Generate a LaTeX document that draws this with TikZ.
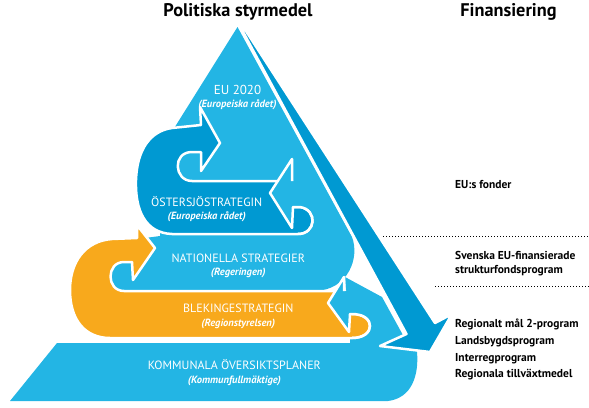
\documentclass[tikz,border=0pt]{standalone}
\usepackage{fontspec}
\setmainfont{PT Sans}
\definecolor{lblue}{RGB}{35,181,228}
\definecolor{dblue}{RGB}{0,153,210}
\definecolor{orng}{RGB}{248,169,28}
\begin{document}
\begin{tikzpicture}[x=1pt,y=-1pt,
  wline/.style={draw=white,line width=2.5pt,line join=round},
  lab/.style={text=white,font=\fontsize{12}{14}\selectfont,anchor=base,inner sep=0pt},
  sub/.style={text=white,font=\fontsize{10.5}{12}\selectfont\bfseries\itshape,anchor=base,inner sep=0pt},
  side/.style={text=black,font=\fontsize{11.5}{13}\selectfont\bfseries,anchor=base west,inner sep=0pt},
  ttl/.style={text=black,font=\fontsize{18.3}{21}\selectfont\bfseries,anchor=base,inner sep=0pt},
  dots/.style={draw=black,line width=1pt,dash pattern=on 1pt off 2pt}]
\useasboundingbox (0,0) rectangle (589,407);
% upper light-blue body (EU 2020 + right strip + Nationella)
\fill[lblue] (237.5,27) -- (352,237) .. controls (360,258) and (348,290) .. (315,291)
  -- (300,295) -- (106,296) -- (104,276) -- (110,256) -- (145,238) -- (160,236)
  -- (160,225) -- (150,140) -- (173,130) -- cycle;
% lower light-blue body (Kommunala + right part)
\fill[lblue] (57,343) -- (10,401) -- (388,401) .. controls (412,398) and (419,375) .. (417,352)
  -- (404,337) -- (382,297) -- (345,277) -- (346,291) -- (350,291) -- (350,343) -- cycle;
% dark blue tongue (Ostersjo)
\path[fill=dblue,wline] (201,125) -- (172,128)
  .. controls (150,131) and (137,150) .. (136,180)
  .. controls (135,210) and (145,233) .. (172,234)
  -- (298,234)
  .. controls (316,234) and (318,210) .. (300,207)
  -- (293,207) -- (292,181) -- (192,181)
  .. controls (174,181) and (172,152) .. (192,152)
  -- (201,152) -- (201,171) -- (220,143) -- (200,107) -- cycle;
% orange tongue (Blekinge)
\path[fill=orng,wline] (137,238) -- (112,239)
  .. controls (85,241) and (70,262) .. (70,290)
  .. controls (70,320) and (85,338) .. (110,338)
  -- (352,338)
  .. controls (376,338) and (376,314) .. (352,314)
  -- (345,291) -- (124,291)
  .. controls (106,291) and (106,262) .. (124,262)
  -- (132,262) -- (133,280) -- (155,248) -- (137,225) -- cycle;
% light blue arrow into dark tongue
\fill[lblue] (292,181) -- (292,159) -- (270,193) -- (292,228) -- (293,207) -- (318,207) -- (318,181) -- cycle;
\draw[wline] (292,181) -- (292,159) -- (270,193) -- (292,228) -- (293,207) -- (300,207)
  .. controls (318,210) and (316,234) .. (298,234);
% light blue arrow into orange tongue
\fill[lblue] (344,291) -- (344,277) -- (328,303) -- (349,332) -- (350,314) -- (360,314) -- (360,291) -- cycle;
\draw[wline] (344,291) -- (344,277) -- (328,303) -- (349,332) -- (350,314) -- (352,314)
  .. controls (376,314) and (376,338) .. (352,338);
% big dark blue arrow
\path[fill=dblue,wline] (241.5,29) -- (406.5,334) -- (380,346) -- (430,352) -- (452,314)
  -- (435,323) -- (244,28) -- cycle;
% titles
\node[ttl] (t1) at (238,16) {Politiska styrmedel};
\node[ttl] (t2) at (508.5,16) {Finansiering};
% labels
\node[lab,font=\fontsize{13}{15}\selectfont] (eu) at (237.5,94.5) {EU 2020};
\node[sub] (eus) at (237.5,107) {(Europeiska rådet)};
\node[lab] (os) at (206.7,206) {ÖSTERSJÖSTRATEGIN};
\node[sub] (oss) at (206.7,219) {(Europeiska rådet)};
\node[lab] (na) at (238.3,262) {NATIONELLA STRATEGIER};
\node[sub] (nas) at (238.3,275) {(Regeringen)};
\node[lab] (bl) at (238.3,312.5) {BLEKINGESTRATEGIN};
\node[sub] (bls) at (238.3,326.5) {(Regionstyrelsen)};
\node[lab] (ko) at (234.3,369.2) {KOMMUNALA ÖVERSIKTSPLANER};
\node[sub] (kos) at (234.3,383.3) {(Kommunfullmäktige)};
% side texts
\node[side] (s1) at (455,188) {EU:s fonder};
\node[side] (s2) at (455,259.5) {Svenska EU-finansierade};
\node[side] (s3) at (455,273) {strukturfondsprogram};
\node[side] (s4) at (455,327) {Regionalt mål 2-program};
\node[side] (s5) at (455,344.5) {Landsbygdsprogram};
\node[side] (s6) at (455,361) {Interregprogram};
\node[side] (s7) at (455,377.5) {Regionala tillväxtmedel};
% dotted separators
\coordinate (d1a) at (383,236);
\coordinate (d1b) at (589,236);
\coordinate (d2a) at (435,286);
\coordinate (d2b) at (589,286);
\draw[dots] (d1a) -- (d1b);
\draw[dots] (d2a) -- (d2b);
\end{tikzpicture}
\end{document}
